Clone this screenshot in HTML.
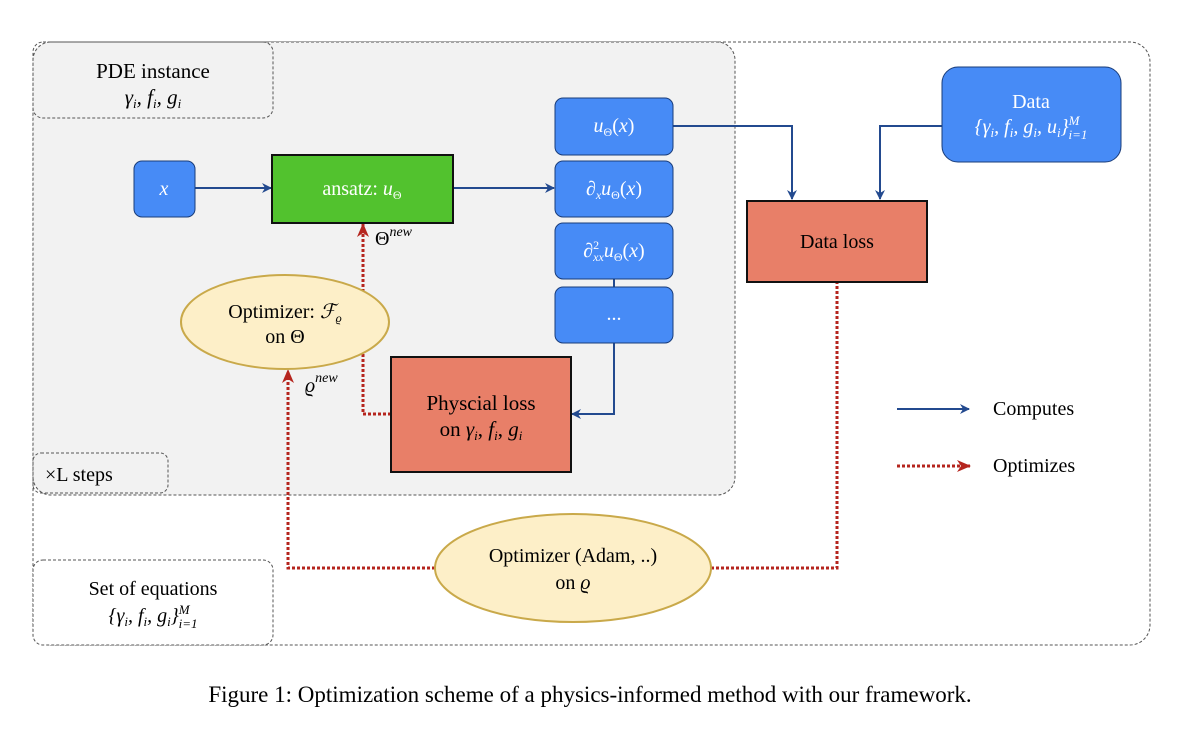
<!DOCTYPE html>
<html><head><meta charset="utf-8"><style>
body{margin:0;background:#fff;}
svg text{font-family:"Liberation Serif",serif;}
</style></head><body>
<svg width="1186" height="740" viewBox="0 0 1186 740" xmlns="http://www.w3.org/2000/svg">
<defs>
<marker id="b" markerWidth="10" markerHeight="10" refX="9" refY="5" orient="auto" markerUnits="userSpaceOnUse"><path d="M0,0 L10,5 L0,10 L3,5 Z" fill="#234a8f"/></marker>
<marker id="r" markerWidth="14" markerHeight="12" refX="13" refY="6" orient="auto" markerUnits="userSpaceOnUse"><path d="M0,0 L14,6 L0,12 L4,6 Z" fill="#b5251e"/></marker>
</defs>
<rect x="33" y="42" width="1117" height="603" rx="20" fill="#fff" stroke="#555" stroke-width="1" stroke-dasharray="3,2"/>
<rect x="33" y="42" width="702" height="453" rx="18" fill="#f2f2f2" stroke="#555" stroke-width="1" stroke-dasharray="3,2"/>
<rect x="33" y="42" width="240" height="76" rx="10" fill="none" stroke="#555" stroke-dasharray="3,2"/>
<text x="153" y="78" font-size="21" text-anchor="middle">PDE instance</text>
<text x="153" y="104" font-size="21" text-anchor="middle" font-style="italic">γ<tspan font-size="13" dy="4">i</tspan><tspan dy="-4">, f</tspan><tspan font-size="13" dy="4">i</tspan><tspan dy="-4">, g</tspan><tspan font-size="13" dy="4">i</tspan></text>
<rect x="33" y="453" width="135" height="40" rx="8" fill="none" stroke="#555" stroke-dasharray="3,2"/>
<text x="45" y="481" font-size="20">×L steps</text>
<rect x="33" y="560" width="240" height="85" rx="10" fill="#fff" stroke="#555" stroke-dasharray="3,2"/>
<text x="153" y="595" font-size="20" text-anchor="middle">Set of equations</text>
<text x="153" y="622" font-size="20" text-anchor="middle" font-style="italic">{γ<tspan font-size="13" dy="4">i</tspan><tspan dy="-4">, f</tspan><tspan font-size="13" dy="4">i</tspan><tspan dy="-4">, g</tspan><tspan font-size="13" dy="4">i</tspan><tspan dy="-4">}</tspan><tspan font-size="13" dy="-8">M</tspan><tspan font-size="13" dx="-11" dy="14">i=1</tspan></text>
<g stroke="#234a8f" stroke-width="2" fill="none">
<path d="M195,188 H271" marker-end="url(#b)"/>
<path d="M453,188 H554" marker-end="url(#b)"/>
<path d="M673,126 H792 V199" marker-end="url(#b)"/>
<path d="M942,126 H880 V199" marker-end="url(#b)"/>
<path d="M614,279 V287"/>
<path d="M614,343 V414 H572" marker-end="url(#b)"/>
<path d="M897,409 H969" marker-end="url(#b)"/>
</g>
<g stroke="#b5251e" stroke-width="3" fill="none" stroke-dasharray="3,2">
<path d="M391,414 H363 V224" marker-end="url(#r)"/>
<path d="M435,568 H288 V370" marker-end="url(#r)"/>
<path d="M711,568 H837 V283"/>
<path d="M897,466 H970" marker-end="url(#r)"/>
</g>
<rect x="134" y="161" width="61" height="56" rx="8" fill="#478bf6" stroke="#1a3d7a"/>
<text x="164" y="195" font-size="20" fill="#fff" text-anchor="middle" font-style="italic">x</text>
<rect x="272" y="155" width="181" height="68" fill="#52c22e" stroke="#111" stroke-width="2"/>
<text x="362" y="195" font-size="20" fill="#fff" text-anchor="middle">ansatz: <tspan font-style="italic">u</tspan><tspan font-size="12" dy="4">Θ</tspan></text>
<g fill="#478bf6" stroke="#1a3d7a">
<rect x="555" y="98" width="118" height="57" rx="8"/>
<rect x="555" y="161" width="118" height="56" rx="8"/>
<rect x="555" y="223" width="118" height="56" rx="8"/>
<rect x="555" y="287" width="118" height="56" rx="8"/>
</g>
<g fill="#fff" font-size="20" text-anchor="middle" font-style="italic">
<text x="614" y="132">u<tspan font-size="12" dy="4" font-style="normal">Θ</tspan><tspan dy="-4" font-style="normal">(</tspan>x<tspan font-style="normal">)</tspan></text>
<text x="614" y="195">∂<tspan font-size="12" dy="4">x</tspan><tspan dy="-4">u</tspan><tspan font-size="12" dy="4" font-style="normal">Θ</tspan><tspan dy="-4" font-style="normal">(</tspan>x<tspan font-style="normal">)</tspan></text>
<text x="614" y="257">∂<tspan font-size="12" dy="-8" font-style="normal">2</tspan><tspan font-size="12" dx="-6" dy="12">xx</tspan><tspan dy="-4">u</tspan><tspan font-size="12" dy="4" font-style="normal">Θ</tspan><tspan dy="-4" font-style="normal">(</tspan>x<tspan font-style="normal">)</tspan></text>
<text x="614" y="320" font-style="normal">...</text>
</g>
<text x="375" y="245" font-size="20">Θ<tspan font-size="14" dy="-9" font-style="italic">new</tspan></text>
<text x="305" y="392" font-size="20" font-style="italic">ϱ<tspan font-size="14" dy="-10">new</tspan></text>
<ellipse cx="285" cy="322" rx="104" ry="47" fill="#fdefc8" stroke="#c9a94a" stroke-width="2"/>
<text x="285" y="318" font-size="20" text-anchor="middle">Optimizer: <tspan font-style="italic">ℱ</tspan><tspan font-size="12" dy="4" font-style="italic">ϱ</tspan></text>
<text x="285" y="343" font-size="20" text-anchor="middle">on Θ</text>
<rect x="391" y="357" width="180" height="115" fill="#e87f68" stroke="#111" stroke-width="2"/>
<text x="481" y="410" font-size="21" text-anchor="middle">Physcial loss</text>
<text x="481" y="436" font-size="21" text-anchor="middle">on <tspan font-style="italic">γ</tspan><tspan font-size="13" dy="4" font-style="italic">i</tspan><tspan dy="-4">, </tspan><tspan font-style="italic">f</tspan><tspan font-size="13" dy="4" font-style="italic">i</tspan><tspan dy="-4">, </tspan><tspan font-style="italic">g</tspan><tspan font-size="13" dy="4" font-style="italic">i</tspan></text>
<rect x="942" y="67" width="179" height="95" rx="16" fill="#478bf6" stroke="#1a3d7a"/>
<text x="1031" y="108" font-size="20" fill="#fff" text-anchor="middle">Data</text>
<text x="1031" y="133" font-size="20" fill="#fff" text-anchor="middle" font-style="italic">{γ<tspan font-size="13" dy="4">i</tspan><tspan dy="-4">, f</tspan><tspan font-size="13" dy="4">i</tspan><tspan dy="-4">, g</tspan><tspan font-size="13" dy="4">i</tspan><tspan dy="-4">, u</tspan><tspan font-size="13" dy="4">i</tspan><tspan dy="-4">}</tspan><tspan font-size="13" dy="-8">M</tspan><tspan font-size="13" dx="-11" dy="14">i=1</tspan></text>
<rect x="747" y="201" width="180" height="81" fill="#e87f68" stroke="#111" stroke-width="2"/>
<text x="837" y="248" font-size="20" text-anchor="middle">Data loss</text>
<ellipse cx="573" cy="568" rx="138" ry="54" fill="#fdefc8" stroke="#c9a94a" stroke-width="2"/>
<text x="573" y="562" font-size="20" text-anchor="middle">Optimizer (Adam, ..)</text>
<text x="573" y="589" font-size="20" text-anchor="middle">on <tspan font-style="italic">ϱ</tspan></text>
<text x="993" y="415" font-size="20">Computes</text>
<text x="993" y="472" font-size="20">Optimizes</text>
<text x="590" y="702" font-size="23" text-anchor="middle">Figure 1: Optimization scheme of a physics-informed method with our framework.</text>
</svg>
</body></html>
